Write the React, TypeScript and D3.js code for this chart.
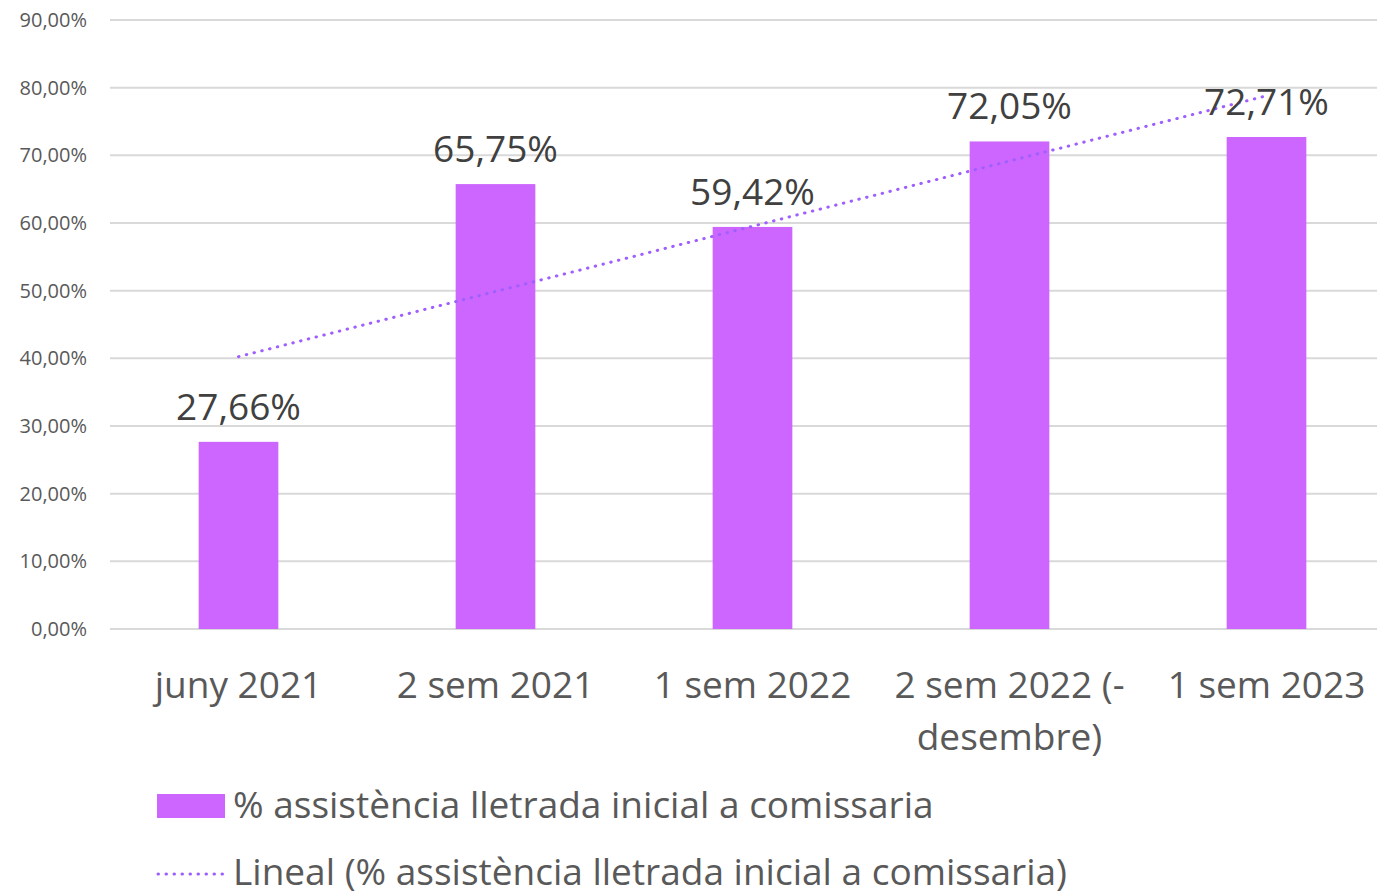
import * as d3 from 'd3'
import { useEffect, useRef } from 'react'

// chart data
const categories = ['juny 2021', '2 sem 2021', '1 sem 2022', '2 sem 2022 (-desembre)', '1 sem 2023']
const categoryLines = [['juny 2021'], ['2 sem 2021'], ['1 sem 2022'], ['2 sem 2022 (-', 'desembre)'], ['1 sem 2023']]
const values = [27.66, 65.75, 59.42, 72.05, 72.71]
const yTicks = [0, 10, 20, 30, 40, 50, 60, 70, 80, 90]
const seriesName = '% assistència lletrada inicial a comissaria'
const trendName = 'Lineal (% assistència lletrada inicial a comissaria)'

const W = 1377
const H = 891
const FONT = '"Open Sans", "Noto Sans", sans-serif'
const BIG = 37

const fmt = (v: number) => v.toFixed(2).replace('.', ',') + '%'

export default function App() {
  const ref = useRef<SVGSVGElement>(null)

  useEffect(() => {
    const svg = d3.select(ref.current)
    svg.selectAll('*').remove()

    const left = 110
    const x = d3.scaleBand<string>().domain(categories).range([left, left + 257 * 5]).padding(0)
    const y = d3.scaleLinear().domain([0, 90]).range([629, 20])
    const barW = x.bandwidth() * 0.31

    // grid
    svg.append('g')
      .selectAll('line')
      .data(yTicks)
      .enter().append('line')
      .attr('x1', left).attr('x2', W)
      .attr('y1', d => y(d)).attr('y2', d => y(d))
      .attr('stroke', '#d9d9d9').attr('stroke-width', 2)

    // y tick labels
    svg.append('g')
      .selectAll('text')
      .data(yTicks)
      .enter().append('text')
      .attr('x', 87).attr('y', d => y(d))
      .attr('dy', '0.35em')
      .attr('text-anchor', 'end')
      .attr('font-family', FONT).attr('font-size', 20)
      .attr('fill', '#595959')
      .text(d => fmt(d))

    // bars
    svg.append('g')
      .selectAll('rect')
      .data(values)
      .enter().append('rect')
      .attr('x', (d, i) => x(categories[i])! + (x.bandwidth() - barW) / 2)
      .attr('y', d => y(d))
      .attr('width', barW)
      .attr('height', d => y(0) - y(d))
      .attr('fill', '#cc66ff')

    // trend line (least squares)
    const xs = values.map((_, i) => i + 1)
    const mx = d3.mean(xs)!
    const my = d3.mean(values)!
    const slope = d3.sum(xs, (xi, i) => (xi - mx) * (values[i] - my)) / d3.sum(xs, xi => (xi - mx) ** 2)
    const icpt = my - slope * mx
    const cx = (i: number) => x(categories[i])! + x.bandwidth() / 2
    svg.append('line')
      .attr('x1', cx(0)).attr('y1', y(icpt + slope * 1))
      .attr('x2', cx(4)).attr('y2', y(icpt + slope * 5))
      .attr('stroke', '#9f5fff').attr('stroke-width', 3)
      .attr('stroke-linecap', 'round')
      .attr('stroke-dasharray', '0.5 7.5')

    // value labels
    svg.append('g')
      .selectAll('text')
      .data(values)
      .enter().append('text')
      .attr('x', (d, i) => cx(i))
      .attr('y', d => y(d) - 22)
      .attr('text-anchor', 'middle')
      .attr('font-family', FONT).attr('font-size', BIG)
      .attr('fill', '#404040')
      .text(d => fmt(d))

    // x labels
    const xl = svg.append('g')
    categoryLines.forEach((lines, i) => {
      const t = xl.append('text')
        .attr('text-anchor', 'middle')
        .attr('font-family', FONT).attr('font-size', BIG)
        .attr('fill', '#595959')
      lines.forEach((ln, j) => {
        t.append('tspan').attr('x', cx(i)).attr('y', 698 + j * 52).text(ln)
      })
    })

    // legend
    const lg = svg.append('g')
    lg.append('rect').attr('x', 157).attr('y', 794).attr('width', 68).attr('height', 24).attr('fill', '#cc66ff')
    lg.append('text').attr('x', 233).attr('y', 818)
      .attr('font-family', FONT).attr('font-size', BIG).attr('fill', '#595959')
      .text(seriesName)
    lg.append('line').attr('x1', 158).attr('x2', 225).attr('y1', 874).attr('y2', 874)
      .attr('stroke', '#9f5fff').attr('stroke-width', 3)
      .attr('stroke-linecap', 'round').attr('stroke-dasharray', '0.5 7.5')
    lg.append('text').attr('x', 233).attr('y', 885)
      .attr('font-family', FONT).attr('font-size', BIG).attr('fill', '#595959')
      .text(trendName)
  }, [])

  return (
    <svg ref={ref} width={W} height={H} style={{ position: 'absolute', left: 0, top: 0, background: '#fff' }} />
  )
}
